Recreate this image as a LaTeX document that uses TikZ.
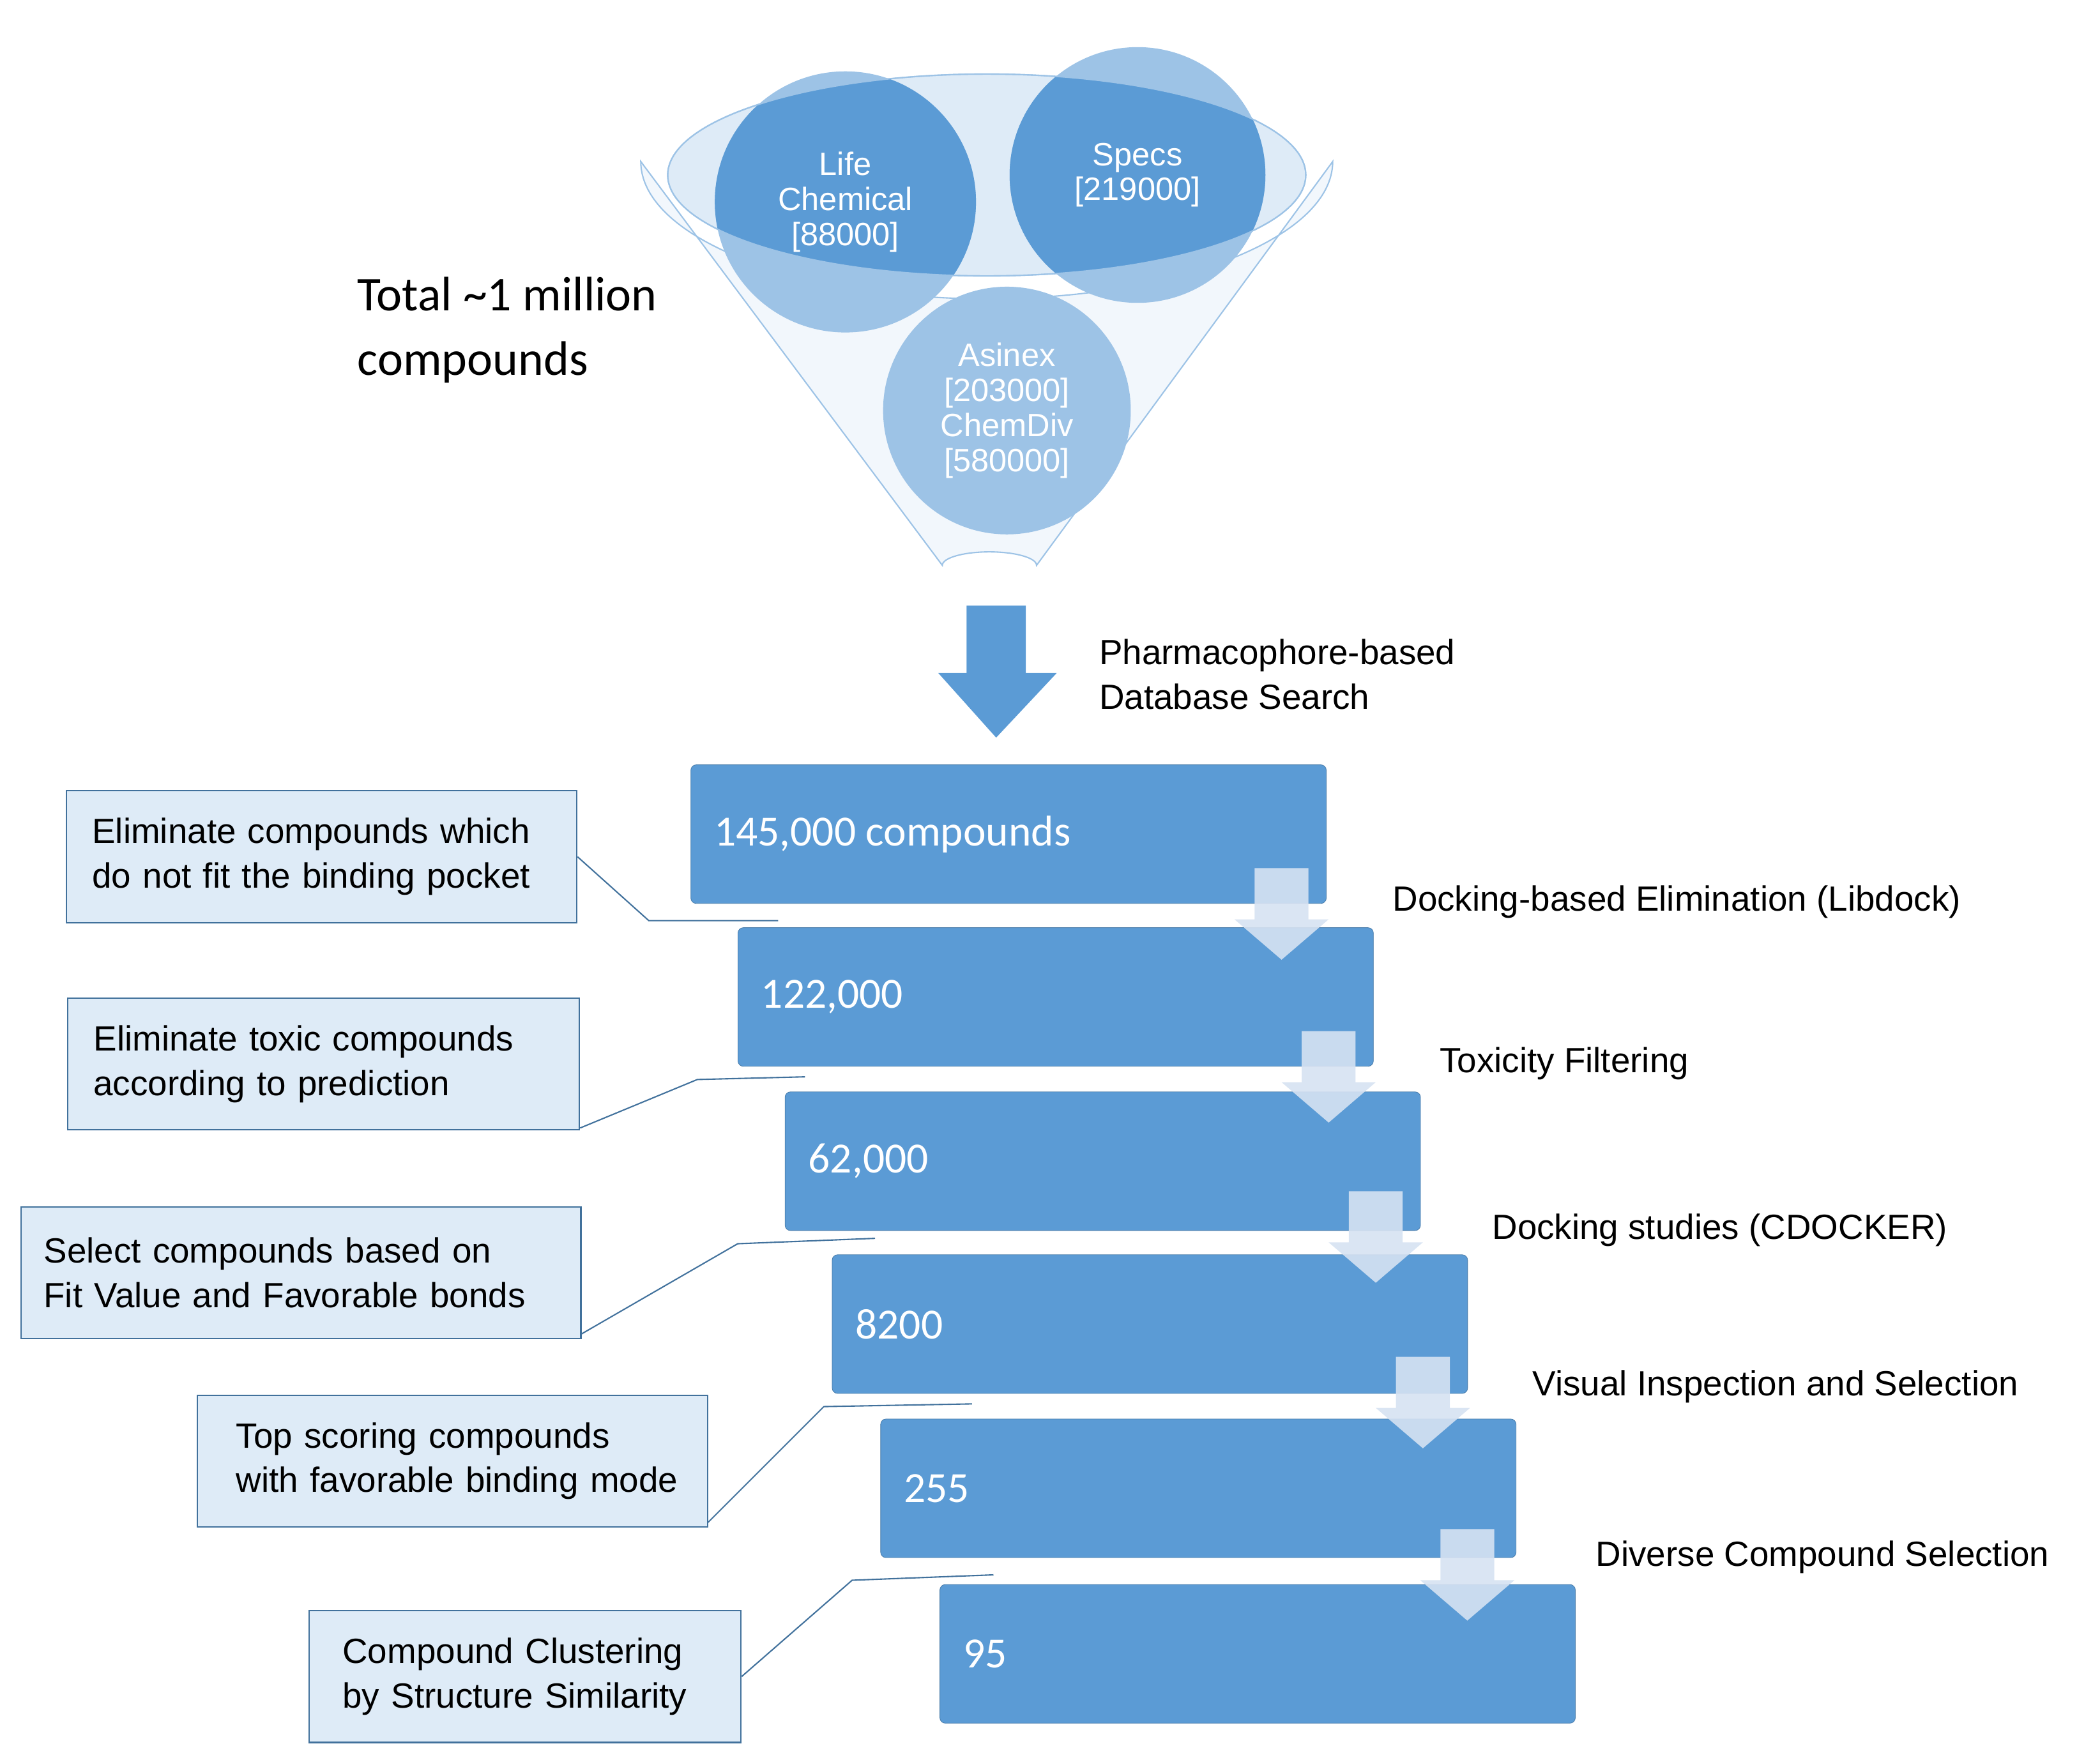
\documentclass[tikz,border=0pt]{standalone}
\usepackage{fontspec}
\setmainfont{Liberation Sans}
\newfontfamily\carl{Carlito}
\definecolor{mblue}{HTML}{5B9BD5}
\definecolor{lblue}{HTML}{9DC3E6}
\definecolor{pblue}{HTML}{DEEBF7}
\definecolor{bord}{HTML}{41719C}
\definecolor{arr}{HTML}{D6E2F2}
\begin{document}
\begin{tikzpicture}[x=1pt,y=-1pt,
 stepbox/.style={draw=mblue!80!black,fill=mblue,rounded corners=4pt,minimum width=472pt,minimum height=103pt,anchor=north west,inner sep=0pt},
 stxt/.style={text=white,font=\carl\fontsize{32}{36}\selectfont,anchor=west},
 lbl/.style={font=\fontsize{26}{31}\selectfont,anchor=west},
 note/.style={draw=bord,line width=1pt,fill=pblue,anchor=north west,align=left,font=\fontsize{26}{33}\selectfont,inner sep=0pt},
 call/.style={draw=bord,line width=1pt},
 circ/.style={circle,inner sep=0pt,align=center,text=white,font=\fontsize{24}{26}\selectfont}]
\useasboundingbox (0,0) rectangle (1560,1302);
% funnel
\draw[lblue,fill=pblue!40,line width=1pt] (476,120) -- (700,420) arc[start angle=180,end angle=360,x radius=35,y radius=10] -- (990,120) arc[start angle=0,end angle=180,x radius=257,y radius=102] -- cycle;
\draw[lblue,fill=pblue,line width=1pt] (733,130) ellipse[x radius=237,y radius=75];
\fill[lblue] (628,150) circle[radius=97];
\fill[lblue] (845,130) circle[radius=95];
\begin{scope}
\clip (733,130) ellipse[x radius=237,y radius=75];
\fill[mblue] (628,150) circle[radius=97];
\fill[mblue] (845,130) circle[radius=95];
\end{scope}
\draw[lblue,line width=1pt] (733,130) ellipse[x radius=237,y radius=75];
\fill[lblue] (748,305) circle[radius=92];
\node[circ] (life) at (628,150) {Life\\Chemical\\{[}88000{]}};
\node[circ] (specs) at (845,130) {Specs\\{[}219000{]}};
\node[circ] (asinex) at (748,305) {Asinex\\{[}203000{]}\\ChemDiv\\{[}580000{]}};
\node[anchor=west,align=left,font=\carl\fontsize{36}{48}\selectfont] (total) at (262,245) {Total \textasciitilde1 million\\compounds};
% big arrow
\fill[mblue] (718,450) -- (762,450) -- (762,500) -- (785,500) -- (740,548) -- (697,500) -- (718,500) -- cycle;
\node[lbl,align=left,font=\fontsize{26}{33}\selectfont] (pharm) at (813,501) {Pharmacophore-based\\Database Search};
% steps
\node[stepbox] (s1) at (513,568) {};
\node[stepbox] (s2) at (548,689) {};
\node[stepbox] (s3) at (583,811) {};
\node[stepbox] (s4) at (618,932) {};
\node[stepbox] (s5) at (654,1054) {};
\node[stepbox] (s6) at (698,1177) {};
\node[stxt] at ([xshift=14pt]s1.west) {145,000 compounds};
\node[stxt] at ([xshift=14pt]s2.west) {122,000};
\node[stxt] at ([xshift=14pt]s3.west) {62,000};
\node[stxt] at ([xshift=14pt]s4.west) {8200};
\node[stxt] at ([xshift=14pt]s5.west) {255};
\node[stxt] at ([xshift=14pt]s6.west) {95};
\foreach \x/\y in {952/645,987/766,1022/885,1057/1008,1090/1136}{
 \fill[arr,opacity=0.9] (\x-20,\y) -- (\x+20,\y) -- (\x+20,\y+38) -- (\x+35,\y+38) -- (\x,\y+68) -- (\x-35,\y+38) -- (\x-20,\y+38) -- cycle;}
\node[lbl] at (1031,670) {Docking-based Elimination (Libdock)};
\node[lbl] at (1066,790) {Toxicity Filtering};
\node[lbl] at (1105,914) {Docking studies (CDOCKER)};
\node[lbl] at (1135,1030) {Visual Inspection and Selection};
\node[lbl] at (1182,1157) {Diverse Compound Selection};
% notes
\node[note,minimum width=379pt,minimum height=98pt,text width=365pt] (n1) at (49,587) {\hspace*{12pt}Eliminate compounds which\\\hspace*{12pt}do not fit the binding pocket};
\node[note,minimum width=380pt,minimum height=98pt,text width=366pt] (n2) at (50,741) {\hspace*{12pt}Eliminate toxic compounds\\\hspace*{12pt}according to prediction};
\node[note,minimum width=416pt,minimum height=98pt,text width=402pt] (n3) at (15,896) {\hspace*{10pt}Select compounds based on\\\hspace*{10pt}Fit Value and Favorable bonds};
\node[note,minimum width=379pt,minimum height=98pt,text width=365pt] (n4) at (146,1036) {\hspace*{22pt}Top scoring compounds\\\hspace*{22pt}with favorable binding mode};
\node[note,minimum width=321pt,minimum height=98pt,text width=307pt] (n5) at (229,1196) {\hspace*{18pt}Compound Clustering\\\hspace*{18pt}by Structure Similarity};
\coordinate (c1) at (578,684); \coordinate (c2) at (598,800); \coordinate (c3) at (650,920);
\coordinate (c4) at (722,1043); \coordinate (c5) at (738,1170);
\draw[call] (n1.east) -- (482,684) -- (c1);
\draw[call] ([yshift=2pt]n2.south east) -- (518,802) -- (c2);
\draw[call] ([yshift=4pt]n3.south east) -- (548,924) -- (c3);
\draw[call] ([yshift=4pt]n4.south east) -- (612,1045) -- (c4);
\draw[call] (n5.east) -- (633,1174) -- (c5);
\end{tikzpicture}
\end{document}
